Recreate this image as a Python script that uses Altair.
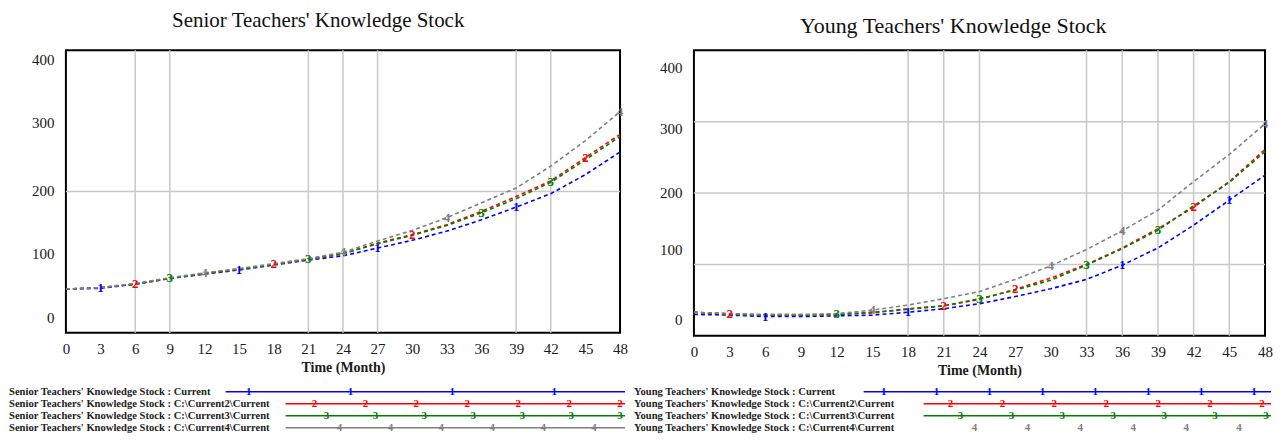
import altair as alt
import pandas as pd

# ---------------- data ----------------
months = [0, 3, 6, 9, 12, 15, 18, 21, 24, 27, 30, 33, 36, 39, 42, 45, 48]

senior_current = [62, 63, 69, 77, 83, 89, 96, 103, 109, 120, 131, 144, 160, 178, 197, 224, 256]
senior_run2 = [62, 64, 69, 77, 84, 90, 97, 104, 112, 127, 139, 153, 172, 193, 215, 248, 281]
senior_run3 = [62, 64, 69, 77, 84, 90, 97, 104, 112, 126, 138, 152, 170, 190, 213, 245, 278]
senior_run4 = [62, 64, 70, 78, 85, 91, 98, 105, 114, 130, 145, 163, 184, 205, 236, 272, 313]

young_current = [30, 29, 27, 27, 28, 29, 33, 38, 45, 55, 66, 79, 99, 123, 155, 190, 225]
young_run2 = [33, 31, 29, 29, 30, 32, 38, 42, 51, 65, 81, 100, 123, 150, 180, 216, 261]
young_run3 = [33, 30, 29, 29, 30, 33, 37, 42, 52, 64, 78, 99, 122, 148, 182, 215, 258]
young_run4 = [33, 31, 30, 30, 31, 36, 43, 52, 62, 79, 98, 121, 147, 176, 216, 254, 297]

senior_labels = [
    "Senior Teachers' Knowledge Stock : Current",
    "Senior Teachers' Knowledge Stock : C:\\Current2\\Current",
    "Senior Teachers' Knowledge Stock : C:\\Current3\\Current",
    "Senior Teachers' Knowledge Stock : C:\\Current4\\Current",
]
young_labels = [
    "Young Teachers' Knowledge Stock : Current",
    "Young Teachers' Knowledge Stock : C:\\Current2\\Current",
    "Young Teachers' Knowledge Stock : C:\\Current3\\Current",
    "Young Teachers' Knowledge Stock : C:\\Current4\\Current",
]

x_ticks = [0, 3, 6, 9, 12, 15, 18, 21, 24, 27, 30, 33, 36, 39, 42, 45, 48]
y_ticks = [0, 100, 200, 300, 400]

senior_grid_x = [6, 9, 21, 24, 27, 39, 42]
senior_grid_y = [200]
young_grid_x = [18, 21, 24, 33, 36, 39, 42, 45]
young_grid_y = [100, 200, 300]

series_ids = ["1", "2", "3", "4"]
senior_marker_months = {"1": [3, 15, 27, 39], "2": [6, 18, 30, 45], "3": [9, 21, 36, 42], "4": [12, 24, 33, 48]}
young_marker_months = {"1": [6, 18, 36, 45], "2": [3, 21, 27, 42], "3": [12, 24, 33, 39], "4": [15, 30, 36, 48]}

# ---------------- style / layout ----------------
COLORS = ["#0000ff", "#ff0000", "#008000", "#808080"]
FONT = "Liberation Serif"
TXT = "#1a1a1a"


def long_df(runs):
    rows = []
    for s, vals in zip(series_ids, runs):
        for m, v in zip(months, vals):
            rows.append({"month": m, "value": v, "series": s})
    return pd.DataFrame(rows)


def color_enc():
    return alt.Color("series:N", scale=alt.Scale(domain=series_ids, range=COLORS), legend=None)


def x_enc():
    return alt.X(
        "month:Q",
        scale=alt.Scale(domain=[0, 48], nice=False, zero=False),
        axis=alt.Axis(values=x_ticks, grid=False, ticks=False, domain=False,
                      labelFont=FONT, labelFontSize=15, labelColor=TXT, labelPadding=9,
                      labelFlush=False, labelOverlap=False,
                      title="Time (Month)", titleFont=FONT, titleFontSize=14,
                      titleFontWeight="bold", titleColor=TXT, titlePadding=4),
    )


def y_enc(offs):
    return alt.Y(
        "value:Q",
        scale=alt.Scale(domain=[0, 400], nice=False, zero=False),
        axis=alt.Axis(values=y_ticks, grid=False, ticks=False, domain=False,
                      labelFont=FONT, labelFontSize=15, labelColor=TXT, labelPadding=12,
                      labelFlush=False, labelOverlap=False, title=None,
                      labelOffset={"condition": [
                          {"test": "datum.value === 400", "value": offs[0]},
                          {"test": "datum.value === 300", "value": offs[1]},
                          {"test": "datum.value === 200", "value": offs[2]},
                          {"test": "datum.value === 100", "value": offs[3]}],
                          "value": offs[4]}),
    )


def panel(title, tsize, toffset, runs, labels, grid_x, grid_y, marker_months,
          width, height, leg, offs):
    df = long_df(runs)
    X, Y, C = x_enc(), y_enc(offs), color_enc()

    gx = alt.Chart(pd.DataFrame({"month": grid_x})).mark_rule(
        color="#c8c8c8", strokeWidth=1.5).encode(x=X)
    gy = alt.Chart(pd.DataFrame({"value": grid_y})).mark_rule(
        color="#c8c8c8", strokeWidth=1.5).encode(y=Y)

    lines = alt.Chart(df).mark_line(strokeWidth=1.6, strokeDash=[4, 3]).encode(
        x=X, y=Y, color=C, detail="series:N")

    mk_rows = df[[m in marker_months[s] for m, s in zip(df["month"], df["series"])]]
    marks = alt.Chart(mk_rows).mark_text(font=FONT, fontSize=13, fontWeight="bold").encode(
        x=X, y=Y, text="series:N", color=C)

    # legend (layout positions, in pixels relative to the plot origin)
    row_y = [leg["y0"] + i * leg["dy"] for i in range(4)]
    text_df = pd.DataFrame({"label": labels, "tx": [leg["tx"]] * 4, "ly": row_y})
    line_df = pd.DataFrame({"series": series_ids, "x0": leg["starts"],
                            "x1": [leg["end"]] * 4, "ly": row_y})
    line_df = line_df[[s in leg["draw"] for s in line_df["series"]]]
    mrows = []
    for i, s in enumerate(series_ids):
        first, step, n = leg["marks"][i]
        for k in range(n):
            mrows.append({"series": s, "mx": first + step * k, "ly": row_y[i]})
    lmk_df = pd.DataFrame(mrows)

    leg_text = alt.Chart(text_df).mark_text(
        align="left", baseline="middle", font=FONT, fontSize=10.6, fontWeight="bold",
        color="#222222").encode(
        x=alt.X("tx:Q", scale=None, axis=None),
        y=alt.Y("ly:Q", scale=None, axis=None),
        text="label:N")
    leg_rule = alt.Chart(line_df).mark_rule(strokeWidth=1.6).encode(
        x=alt.X("x0:Q", scale=None, axis=None), x2="x1:Q",
        y=alt.Y("ly:Q", scale=None, axis=None), color=C)
    leg_mk = alt.Chart(lmk_df).mark_text(
        font=FONT, fontSize=11, fontWeight="bold", baseline="middle").encode(
        x=alt.X("mx:Q", scale=None, axis=None),
        y=alt.Y("ly:Q", scale=None, axis=None),
        text="series:N", color=C)

    return alt.layer(gx, gy, lines, marks, leg_rule, leg_mk, leg_text).properties(
        width=width, height=height,
        title=alt.Title(title, font=FONT, fontSize=tsize, fontWeight="normal", color="#111111",
                        anchor="middle", frame="bounds", offset=toffset))


left_leg = {"y0": 342, "dy": 12, "tx": -57, "starts": [160, 220, 220, 220], "end": 560,
            "draw": series_ids,
            "marks": [(183, 102, 4), (249, 51, 7), (261, 49, 7), (274, 51, 6)]}
right_leg = {"y0": 342, "dy": 12, "tx": -60, "starts": [170, 230, 230, 230], "end": 578,
             "draw": ["1", "2", "3"],
             "marks": [(190, 53, 8), (257, 52, 7), (267, 51, 7), (281, 53, 6)]}

left = panel("Senior Teachers' Knowledge Stock", 21, 19,
             [senior_current, senior_run2, senior_run3, senior_run4], senior_labels,
             senior_grid_x, senior_grid_y, senior_marker_months, 555, 283, left_leg,
             [9, 2, -1, -9, -15])
right = panel("Young Teachers' Knowledge Stock", 22, 12,
              [young_current, young_run2, young_run3, young_run4], young_labels,
              young_grid_x, young_grid_y, young_marker_months, 572, 286, right_leg,
              [17, 7, -1, -15, -16])

chart = alt.hconcat(left, right, spacing=4).properties(padding=0).configure_view(
    stroke="black", strokeWidth=2)

chart.save("out.html", embed_options={"renderer": "svg", "actions": False})
